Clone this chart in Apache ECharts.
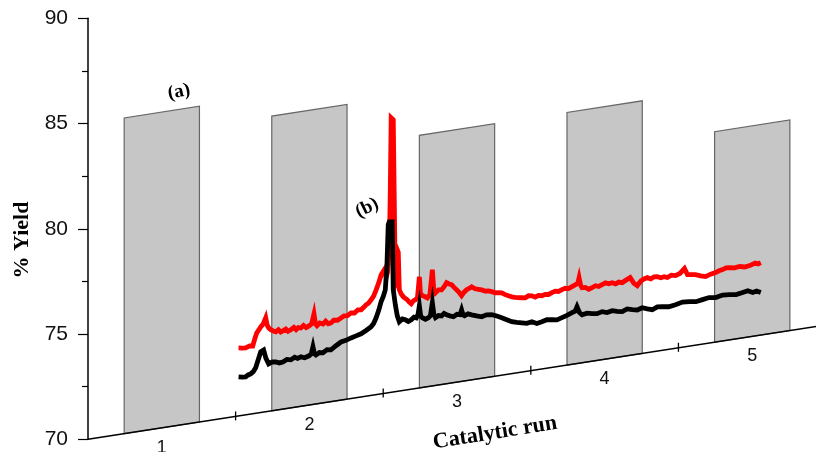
<!DOCTYPE html>
<html><head><meta charset="utf-8">
<script src="https://cdn.jsdelivr.net/npm/echarts@6/dist/echarts.min.js"></script>
<style>html,body{margin:0;padding:0;background:#fff}#c{width:816px;height:452px}</style>
</head><body><div id="c"></div>
<script>
// ---- data ----
const categories = ['1', '2', '3', '4', '5'];
const barYield = [85, 84, 82, 82, 80];               // (a)
const redX = [1.020,1.045,1.068,1.095,1.116,1.130,1.143,1.158,1.170,1.188,1.204,1.214,1.224,1.240,1.256,1.272,1.290,1.305,1.320,1.340,1.355,1.374,1.395,1.410,1.425,1.442,1.460,1.478,1.497,1.515,1.531,1.541,1.551,1.570,1.592,1.610,1.628,1.646,1.665,1.690,1.714,1.735,1.758,1.782,1.805,1.828,1.850,1.868,1.884,1.900,1.918,1.935,1.952,1.970,1.986,2.007,2.020,2.030,2.042,2.048,2.054,2.068,2.075,2.082,2.090,2.095,2.102,2.109,2.122,2.136,2.150,2.163,2.176,2.190,2.204,2.218,2.232,2.240,2.245,2.252,2.265,2.282,2.299,2.316,2.326,2.333,2.342,2.354,2.375,2.395,2.412,2.429,2.446,2.463,2.480,2.497,2.514,2.531,2.548,2.565,2.582,2.599,2.622,2.645,2.667,2.690,2.712,2.735,2.758,2.780,2.803,2.826,2.848,2.871,2.894,2.916,2.939,2.962,2.985,3.007,3.030,3.052,3.075,3.098,3.120,3.143,3.166,3.188,3.211,3.234,3.256,3.279,3.300,3.318,3.327,3.337,3.347,3.370,3.392,3.415,3.438,3.460,3.483,3.506,3.528,3.551,3.574,3.596,3.619,3.645,3.673,3.697,3.721,3.745,3.767,3.789,3.812,3.835,3.857,3.880,3.903,3.925,3.952,3.980,4.010,4.041,4.061,4.088,4.116,4.150,4.184,4.218,4.252,4.275,4.299,4.323,4.347,4.381,4.415,4.449,4.483,4.520,4.540,4.558];
const redY = [73.23,73.20,73.18,73.25,73.22,73.55,73.81,73.95,74.07,74.20,74.46,74.10,73.96,73.85,73.78,73.72,73.80,73.68,73.72,73.78,73.66,73.71,73.80,73.68,73.76,73.72,73.82,73.70,73.76,73.84,74.29,73.80,73.71,73.82,73.75,73.86,73.72,73.74,73.85,73.82,73.90,73.98,73.96,74.07,74.04,74.16,74.14,74.24,74.34,74.40,74.54,74.70,74.98,75.30,75.66,75.87,75.50,75.75,77.00,79.63,83.04,82.93,79.12,75.08,75.20,76.73,76.60,74.81,74.60,74.45,74.36,74.28,74.16,74.06,74.18,74.22,74.30,74.90,75.28,74.50,74.36,74.30,74.22,74.35,75.00,75.52,74.60,74.40,74.52,74.50,74.62,74.80,74.72,74.67,74.52,74.39,74.25,74.07,74.22,74.32,74.36,74.42,74.30,74.25,74.20,74.12,74.10,74.04,73.96,73.95,73.91,73.80,73.72,73.65,73.60,73.56,73.53,73.50,73.58,73.55,73.46,73.52,73.48,73.52,73.49,73.55,73.60,73.56,73.62,73.66,73.62,73.69,73.75,73.80,74.06,73.70,73.56,73.55,73.44,73.49,73.56,73.50,73.56,73.62,73.55,73.58,73.50,73.56,73.51,73.60,73.69,73.40,73.25,73.45,73.52,73.56,73.48,73.55,73.53,73.46,73.48,73.42,73.50,73.45,73.52,73.72,73.41,73.38,73.35,73.25,73.18,73.26,73.30,73.36,73.39,73.45,73.43,73.38,73.41,73.35,73.38,73.46,73.40,73.44];
const blackX = [1.020,1.045,1.068,1.085,1.102,1.120,1.136,1.152,1.170,1.190,1.205,1.224,1.248,1.272,1.296,1.320,1.347,1.374,1.400,1.420,1.442,1.468,1.497,1.512,1.524,1.534,1.544,1.568,1.592,1.620,1.646,1.680,1.714,1.748,1.782,1.816,1.850,1.884,1.918,1.935,1.952,1.970,1.986,2.000,2.014,2.025,2.034,2.041,2.061,2.068,2.082,2.095,2.109,2.130,2.150,2.170,2.190,2.208,2.224,2.236,2.245,2.254,2.265,2.286,2.306,2.320,2.333,2.343,2.354,2.375,2.395,2.412,2.429,2.452,2.476,2.500,2.520,2.531,2.541,2.551,2.575,2.599,2.633,2.667,2.700,2.735,2.770,2.803,2.837,2.871,2.905,2.939,2.973,3.007,3.041,3.075,3.109,3.143,3.177,3.211,3.245,3.279,3.300,3.313,3.330,3.347,3.381,3.415,3.449,3.483,3.517,3.551,3.585,3.619,3.653,3.687,3.721,3.755,3.789,3.823,3.857,3.891,3.935,3.980,4.028,4.075,4.119,4.163,4.208,4.252,4.300,4.347,4.391,4.435,4.470,4.503,4.530,4.558];
const blackY = [71.86,71.82,71.80,71.88,71.91,72.00,72.16,72.50,72.88,72.95,72.55,72.25,72.32,72.29,72.22,72.24,72.33,72.28,72.38,72.30,72.35,72.28,72.34,72.40,72.74,72.40,72.33,72.42,72.38,72.50,72.46,72.62,72.76,72.80,72.88,72.94,73.00,73.12,73.26,73.40,73.65,74.00,74.38,74.60,74.91,76.00,77.98,78.11,78.09,74.86,74.13,73.60,73.29,73.40,73.34,73.24,73.30,73.40,73.35,73.50,73.90,73.40,73.31,73.22,73.27,73.35,73.95,73.40,73.22,73.30,73.26,73.36,73.28,73.20,73.13,73.22,73.18,73.40,73.15,73.10,73.16,73.09,73.00,72.92,72.98,72.95,72.85,72.73,72.60,72.47,72.40,72.34,72.28,72.32,72.20,72.24,72.30,72.27,72.22,72.29,72.36,72.45,72.50,72.70,72.40,72.28,72.32,72.26,72.22,72.28,72.20,72.25,72.18,72.13,72.22,72.15,72.10,72.17,72.08,72.00,72.10,72.07,72.02,72.07,72.14,72.11,72.06,72.11,72.16,72.11,72.18,72.15,72.10,72.15,72.20,72.08,72.12,72.02];
const yMin = 70, yMax = 90, yStep = 5;
const xShown = 4.93;   // visible part of the run axis

// ---- projection (oblique view: the run axis falls to the right) ----
const SHEAR = 0.155;
function proj(api, u, v) {
  const p = api.coord([u, v]);
  const o = api.coord([0, yMin]);
  return [p[0], p[1] - SHEAR * (p[0] - o[0])];
}

const chart = echarts.init(document.getElementById('c'), null, {renderer: 'canvas'});

function lineSeries(xs, ys, color) {
  return {
    type: 'custom', silent: true, clip: false, z: 5,
    data: xs.map((x, i) => [x, ys[i]]),
    renderItem: function (params, api) {
      if (params.dataIndex !== 0) return null;
      const pts = xs.map((x, i) => proj(api, x, ys[i]));
      return {type: 'polyline', shape: {points: pts},
        style: {stroke: color, lineWidth: 4.8, fill: null, lineJoin: 'miter'}};
    }
  };
}

const option = {
  animation: false,
  backgroundColor: '#fff',
  grid: {left: 88, top: 18.3, width: 727.7, height: 421, containLabel: false, outerBoundsMode: 'none'},
  xAxis: {type: 'value', min: 0, max: xShown, show: false},
  yAxis: {
    type: 'value', min: yMin, max: yMax, interval: yStep,
    axisLine: {show: true, lineStyle: {color: '#000', width: 1.5}},
    axisTick: {show: true, length: 10, lineStyle: {color: '#000', width: 1.2}},
    minorTick: {show: true, splitNumber: 2, length: 6, lineStyle: {color: '#000', width: 1.2}},
    splitLine: {show: false},
    axisLabel: {color: '#111', fontSize: 21, fontFamily: 'Liberation Sans', margin: 20}
  },
  series: [
    { // bars (a)
      type: 'custom', silent: true, z: 2,
      data: barYield.map((v, i) => [i + 0.5, v]),
      renderItem: function (params, api) {
        const u = api.value(0), v = api.value(1), h = 0.255;
        return {type: 'polygon', shape: {points: [
          proj(api, u - h, yMin), proj(api, u + h, yMin), proj(api, u + h, v), proj(api, u - h, v)]},
          style: {fill: '#c6c6c6', stroke: '#666', lineWidth: 1.2}};
      }
    },
    { // slanted category axis
      type: 'custom', silent: true, clip: false, z: 3,
      data: [[0, yMin]],
      renderItem: function (params, api) {
        const kids = [];
        const a = proj(api, 0, yMin), b = proj(api, categories.length, yMin);
        kids.push({type: 'line', shape: {x1: a[0], y1: a[1], x2: b[0], y2: b[1]},
          style: {stroke: '#000', lineWidth: 1.5}});
        for (let i = 1; i < categories.length; i++) {
          const t = proj(api, i, yMin);
          kids.push({type: 'line', shape: {x1: t[0], y1: t[1] - 5, x2: t[0], y2: t[1] + 4},
            style: {stroke: '#000', lineWidth: 1.3}});
        }
        categories.forEach((c, i) => {
          const t = proj(api, i + 0.5, yMin);
          kids.push({type: 'text', x: t[0], y: t[1] + 20,
            style: {text: c, fill: '#111', font: '18px "Liberation Sans"', align: 'center', verticalAlign: 'middle'}});
        });
        return {type: 'group', children: kids};
      }
    },
    lineSeries(redX, redY, '#ff0000'),
    lineSeries(blackX, blackY, '#000000')
  ],
  graphic: [
    {type: 'text', x: 22, y: 240, rotation: Math.PI / 2,
      style: {text: '% Yield', font: 'bold 22px "Liberation Serif"', fill: '#000', align: 'center', verticalAlign: 'middle'}},
    {type: 'text', x: 495, y: 433, rotation: 0.16,
      style: {text: 'Catalytic run', font: 'bold 22px "Liberation Serif"', fill: '#000', align: 'center', verticalAlign: 'middle'}},
    {type: 'text', x: 179, y: 92, rotation: 0.2,
      style: {text: '(a)', font: 'bold 19px "Liberation Serif"', fill: '#000', align: 'center', verticalAlign: 'middle'}},
    {type: 'text', x: 367, y: 208, rotation: 0.45,
      style: {text: '(b)', font: 'bold 19px "Liberation Serif"', fill: '#000', align: 'center', verticalAlign: 'middle'}}
  ]
};
chart.setOption(option);
</script></body></html>
